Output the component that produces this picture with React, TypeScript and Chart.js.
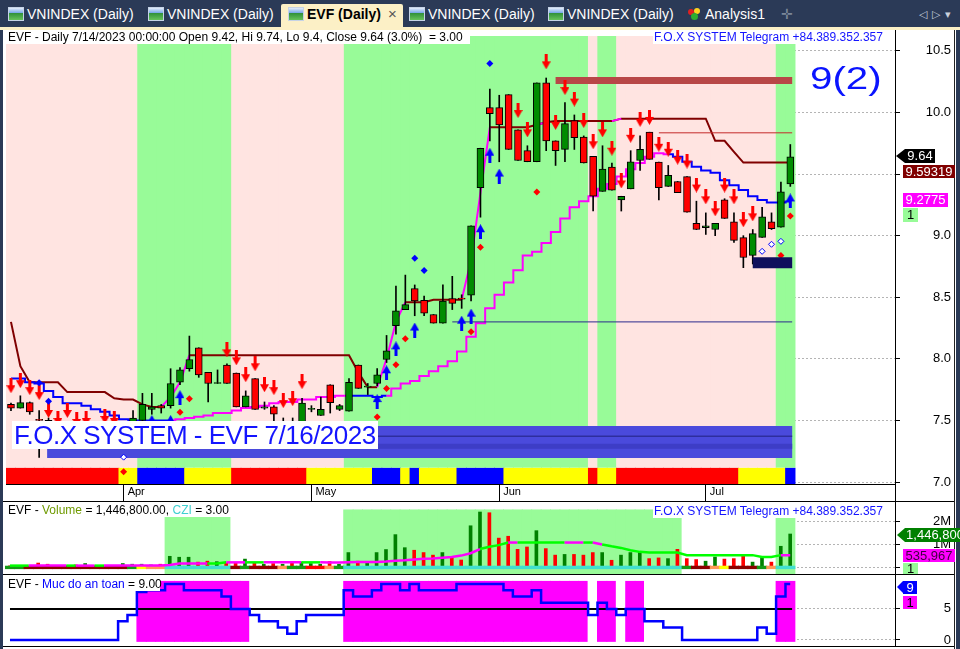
import React, { useEffect, useRef } from 'react';
import { Chart, registerables } from 'chart.js';

Chart.register(...registerables);

const FONT = '"Liberation Sans", Arial, Helvetica, sans-serif';
const _ = null;

/* ------------------------- data ------------------------- */
const monthTickIdx = [12, 32, 52, 74];
const monthLabels = ['Apr', 'May', 'Jun', 'Jul'];
const priceTicks = [7.0, 7.5, 8.0, 8.5, 9.0, 9.5, 10.0, 10.5];
const volumeTicks = [0, 1000000, 2000000];
const volumeTickLabels = ['', '1M', '2M'];
const safetyTicks = [0, 5];

const opens = [
  7.63, 7.60, 7.645, 7.51, 7.50, 7.46, 7.42, 7.45, 7.43, 7.47,
  7.44, 7.42, 7.40, 7.46, 7.50, 7.59, 7.62, 7.62, 7.81, 7.92,
  8.09, 7.89, 7.80, 7.95, 7.885, 7.61, 7.84, 7.60, 7.61, 7.44,
  7.48, 7.485, 7.59, 7.54, 7.79, 7.59, 7.575, 7.95, 7.77, 7.80,
  7.995, 8.27, 8.40, 8.57, 8.475, 8.36, 8.29, 8.49, 8.49, 8.516,
  9.39, 10.04, 10.04, 10.145, 9.86, 9.69, 9.60, 10.24, 9.77, 9.70,
  9.935, 9.80, 9.645, 9.36, 9.556, 9.29, 9.38, 9.61, 9.84, 9.597,
  9.40, 9.44, 9.48, 9.10, 9.065, 9.05, 9.29, 9.113, 8.984, 8.84,
  8.986, 9.113, 9.07, 9.42,
];
const highs = [
  7.64, 7.70, 7.65, 7.58, 7.52, 7.48, 7.47, 7.50, 7.49, 7.48,
  7.46, 7.45, 7.47, 7.58, 7.72, 7.72, 7.63, 7.92, 7.93, 8.185,
  8.09, 7.89, 7.91, 7.96, 7.885, 7.74, 7.84, 7.65, 7.62, 7.52,
  7.52, 7.68, 7.62, 7.69, 7.79, 7.63, 7.84, 7.95, 7.80, 7.92,
  8.19, 8.59, 8.68, 8.60, 8.51, 8.36, 8.60, 8.67, 8.52, 9.08,
  9.71, 10.19, 10.14, 10.145, 9.86, 9.73, 10.24, 10.28, 9.77, 10.08,
  9.98, 9.81, 9.645, 9.73, 9.59, 9.32, 9.69, 9.81, 9.84, 9.597,
  9.57, 9.44, 9.48, 9.28, 9.185, 9.10, 9.30, 9.185, 9.00, 9.05,
  9.23, 9.185, 9.435, 9.74,
];
const lows = [
  7.58, 7.60, 7.55, 7.20, 7.40, 7.26, 7.38, 7.38, 7.40, 7.40,
  7.36, 7.35, 7.36, 7.44, 7.48, 7.55, 7.56, 7.60, 7.79, 7.90,
  7.85, 7.65, 7.80, 7.80, 7.61, 7.61, 7.59, 7.59, 7.45, 7.40,
  7.40, 7.48, 7.57, 7.54, 7.56, 7.58, 7.575, 7.76, 7.71, 7.78,
  7.97, 8.20, 8.40, 8.35, 8.35, 8.29, 8.29, 8.40, 8.41, 8.47,
  9.15, 9.77, 9.60, 9.70, 9.61, 9.60, 9.60, 9.69, 9.57, 9.60,
  9.70, 9.59, 9.20, 9.36, 9.37, 9.20, 9.38, 9.53, 9.62, 9.29,
  9.40, 9.35, 9.19, 9.05, 9.01, 9.00, 9.14, 8.946, 8.74, 8.77,
  8.986, 9.05, 9.07, 9.40,
];
const closes = [
  7.60, 7.645, 7.57, 7.50, 7.46, 7.42, 7.45, 7.43, 7.47, 7.44,
  7.42, 7.40, 7.45, 7.52, 7.63, 7.61, 7.60, 7.80, 7.91, 7.995,
  7.87, 7.80, 7.805, 7.80, 7.61, 7.70, 7.59, 7.61, 7.55, 7.48,
  7.46, 7.64, 7.595, 7.59, 7.645, 7.62, 7.81, 7.76, 7.775, 7.87,
  8.065, 8.39, 8.44, 8.47, 8.37, 8.29, 8.47, 8.45, 8.485, 9.08,
  9.71, 9.99, 9.90, 9.70, 9.61, 9.60, 10.24, 9.77, 9.69, 9.91,
  9.796, 9.59, 9.32, 9.54, 9.37, 9.32, 9.60, 9.70, 9.62, 9.39,
  9.49, 9.35, 9.19, 9.05, 9.08, 9.10, 9.14, 8.962, 8.823, 9.016,
  9.153, 9.056, 9.355, 9.64,
];
const maroonLine = [
  8.30, 7.94, 7.81, 7.81, 7.81, 7.81, 7.73, 7.73, 7.73, 7.73,
  7.73, 7.68, 7.67, 7.67, 7.63, 7.61, 7.61, _, _, 8.03,
  8.03, 8.03, 8.03, 8.03, 8.03, 8.03, 8.03, 8.03, 8.03, 8.03,
  8.03, 8.03, 8.03, 8.03, 8.03, 8.03, 8.03, 7.89, 7.77, 7.77,
  _, _, 8.46, 8.46, 8.46, 8.48, 8.48, 8.48, 8.48, _,
  _, 9.88, 9.88, 9.88, 9.88, 9.88, 9.90, 9.92, 9.93, 9.93,
  9.93, 9.93, 9.93, 9.93, 9.93, 9.95, 9.95, 9.95, 9.95, 9.95,
  9.95, 9.95, 9.95, 9.95, 9.95, 9.77, 9.77, 9.68, 9.59319, 9.59319,
  9.59319, 9.59319, 9.59319, 9.59319,
];
const fastLine = [
  _, _, _, _, _, _, _, _, _, _,
  _, _, _, _, _, _, 7.61, 7.69, 7.81, 8.03,
  _, _, _, _, _, _, _, _, _, _,
  _, _, _, _, _, _, _, _, _, 7.77,
  8.00, 8.30, 8.46, _, _, _, _, _, 8.48, 8.80,
  9.35, 9.88, _, _, _, _, 9.90, 9.92, _, _,
  _, _, _, _, 9.93, 9.95, _, _, _, _,
  _, _, _, _, _, _, _, _, _, _,
  _, _, _, _,
];
const trailLine = [
  7.84, 7.84, 7.81, 7.80, 7.74, 7.69, 7.64, 7.64, 7.62, 7.59,
  7.57, 7.54, 7.51, 7.50, 7.50, 7.50, 7.50, 7.50, 7.51, 7.52,
  7.53, 7.54, 7.56, 7.56, 7.58, 7.60, 7.61, 7.62, 7.64, 7.65,
  7.65, 7.67, 7.67, 7.69, 7.69, 7.70, 7.70, 7.70, 7.70, 7.69,
  7.70, 7.76, 7.80, 7.82, 7.86, 7.90, 7.94, 7.98, 8.06, 8.18,
  8.29, 8.41, 8.52, 8.62, 8.72, 8.84, 8.87, 8.94, 9.03, 9.14,
  9.23, 9.28, 9.32, 9.38, 9.42, 9.48, 9.54, 9.59, 9.64, 9.67,
  9.66, 9.64, 9.60, 9.56, 9.53, 9.51, 9.45, 9.41, 9.37, 9.32,
  9.29, 9.27, 9.27, 9.2775,
];
const trailSide = 'bbbbbbbbbb bbbbbbbmmm mmmmmmmmmm mmmmmmbbbb mmmmmmmmmm mmmmmmmmmm mmmmmmmmmm bbbbbbbbbb bbbm'.replace(/ /g, '').split('');
const ribbonState = 'RRRRRRRRRR RRYYBBBBBY YYYYRRRRRR RRYYYYYYYB BBYBYYYYBB BBBYYYYYYY YYRYYRRRRR RRRRRRRRYY YYYB'.replace(/ /g, '').split('');
const mainZone = 'PPPPPPPPPP PPPPGGGGGG GGGGPPPPPP PPPPPPGGGG GGGGGGGGGG GGGGGGGGGG GGPGGPPPPP PPPPPPPPPP PPGG'.replace(/ /g, '').split('');

const volumes = [
  80000, 100000, 60000, 200000, 150000, 100000, 80000, 120000, 180000, 80000,
  100000, 70000, 180000, 150000, 150000, 120000, 150000, 490000, 450000, 450000,
  240000, 280000, 260000, 200000, 200000, 370000, 200000, 150000, 180000, 150000,
  270000, 240000, 180000, 150000, 270000, 150000, 650000, 280000, 200000, 650000,
  780000, 1420000, 860000, 750000, 650000, 540000, 650000, 440000, 330000, 1800000,
  2390000, 2360000, 1270000, 1350000, 790000, 890000, 1590000, 820000, 540000, 570000,
  570000, 540000, 650000, 650000, 320000, 540000, 650000, 650000, 390000, 420000,
  390000, 790000, 390000, 350000, 280000, 460000, 370000, 390000, 540000, 240000,
  420000, 240000, 920000, 1446800,
];
const volumeMA = [
  90000, 90000, 90000, 90000, 90000, 90000, 90000, 90000, 90000, 90000,
  90000, 90000, 90000, 90000, 90000, 90000, 90000, 120000, 180000, 180000,
  180000, 180000, 180000, 230000, 230000, 230000, 230000, 230000, 230000, 230000,
  230000, 230000, 230000, 230000, 220000, 220000, 230000, 240000, 250000, 250000,
  270000, 300000, 320000, 350000, 380000, 400000, 430000, 460000, 520000, 620000,
  800000, 900000, 970000, 1080000, 1080000, 1080000, 1080000, 1080000, 1080000, 1080000,
  1080000, 1080000, 1080000, 1000000, 920000, 850000, 750000, 680000, 650000, 650000,
  650000, 650000, 540000, 540000, 540000, 540000, 540000, 540000, 540000, 540000,
  460000, 460000, 540000, 535967,
];
const volumeMAColor = 'ggmmmmgmmg mmmmmmmmmm mggmmggmmm mggmmmmmmm mmmmmmmmmm gggmgggggm mgmggggggg gggggggggg ggmm'.replace(/ /g, '').split('');
const volumeZone = 'WWWWWWWWWW WWWWWWWGGG GGGGWWWWWW WWWWWWGGGG GGGGGGGGGG GGGGGGGGGG GGGGGGGGGG GGWWWWWWWW WWGG'.replace(/ /g, '').split('');
const volumeBase = 'ggkkkkkkkk kkkgyooccc cccckgkkko ggrrogcccc cccccccccc cccccccccc cccccccccc ccgkkoykkk gocc'.replace(/ /g, '').split('');

const safetyLevel = [
  0, 0, 0, 0, 0, 0, 0, 0, 0, 0,
  0, 0, 3, 4, 7.7, 8, 8, 9, 9, 8,
  8, 8, 8, 7, 5, 5, 4, 3, 3, 2,
  1, 3, 4, 4, 4, 4, 8, 7, 7, 8,
  9, 9, 8, 9, 8, 8, 8, 8, 9, 9,
  9, 9, 9, 8, 7, 7, 8, 6, 6, 6,
  6, 6, 4, 6, 5, 4, 5, 5, 3, 3,
  2, 2, 0, 0, 0, 0, 0, 0, 0, 0,
  2, 1, 7, 9,
];
const safetyZone = 'WWWWWWWWWW WWWWMMMMMM MMMMMMWWWW WWWWWWMMMM MMMMMMMMMM MMMMMMMMMM MMWMMWMMWW WWWWWWWWWW WWMM'.replace(/ /g, '').split('');
const safetyThreshold = 5;
const safetyThresholdSpan = [0, 83.2];

const redArrowIdx = [0, 1, 2, 3, 4, 5, 6, 7, 8, 10, 11, 23, 24, 25, 26, 27, 28, 29, 30, 31, 54, 55, 57, 58, 59, 60, 61, 62, 63, 64, 65, 66, 67, 68, 69, 70, 71, 72, 73, 74, 75, 76, 77, 78, 79];
const redArrowPrice = [7.782, 7.823, 7.766, 7.726, 7.581, 7.516, 7.581, 7.508, 7.516, 7.532, 7.516, 8.073, 8.008, 7.871, 7.96, 7.79, 7.766, 7.661, 7.677, 7.815, 10.016, 9.859, 10.411, 9.919, 10.202, 10.109, 9.935, 9.762, 9.859, 9.71, 9.444, 9.815, 9.944, 9.96, 9.742, 9.702, 9.637, 9.605, 9.411, 9.315, 9.218, 9.411, 9.315, 9.129, 9.177];
const blueArrowIdx = [15, 17, 18, 39, 40, 41, 43, 48, 49, 50, 51, 52, 83];
const blueArrowPrice = [7.484, 7.484, 7.685, 7.653, 7.887, 8.081, 8.234, 8.29, 8.347, 9.032, 9.653, 9.484, 9.282];
const redDotIdx = [12, 18, 19, 39, 40, 41, 42, 49, 50, 56, 82, 83];
const redDotPrice = [7.083, 7.567, 7.677, 7.527, 7.76, 7.952, 8.164, 8.22, 8.906, 9.355, 8.839, 9.159];
const blueDotIdx = [3, 4, 43, 44, 51];
const blueDotPrice = [7.806, 7.656, 8.817, 8.718, 10.398];
const hollowIdx = [12, 80, 81, 82];
const hollowPrice = [7.202, 8.873, 8.93, 8.954];

const levelValue = [8.30, 9.835, 10.26, 8.78, 7.324, 7.290, 7.371];
const levelFrom = [47, 69, 58, 79, 3.85, 3.85, 3.85];
const levelTo = [83.2, 83.2, 83.2, 83.2, 83.2, 83.2, 83.2];

/* ------------------------- styling ------------------------- */
const PINK = '#ffe4e1';
const PALE_GREEN = '#98fb98';
const CANDLE_GREEN = '#008c00';
const CANDLE_RED = '#ff0000';
const RIBBON_COLORS: any = { R: '#ff0000', Y: '#ffff00', B: '#0000ff' };
const BASE_COLORS: any = { c: '#40e0d0', k: '#8b0000', g: '#159a15', o: '#ff9955', y: '#ffff00', r: '#ff0000' };
const levelStyles = [
  { color: '#2b2b8c', width: 1, order: 30 },
  { color: '#c42a2a', width: 1, order: 30 },
  { color: '#b84747', width: 7, order: 15 },
  { color: '#0f0f5c', width: 11, order: 5 },
  { color: '#4a4adc', width: 32, order: 16 },
  { color: '#3d3dc6', width: 5, order: 15 },
  { color: '#2e2e9e', width: 1.5, order: 15 },
];

const X_MIN = -0.53;
const X_MAX = 94.15;
const P_MIN = 6.984;
const P_MAX = 10.621;
const RIBBON_TOP = 7.115;
const V_MIN = -270000;
const V_MAX = 2863000;
const V_BAND_TOP = 2500000;
const V_BASE_LO = -60000;
const V_BASE_HI = 85000;
const S_MIN = -0.965;
const S_MAX = 10.45;
const S_BAND_LO = -0.3;
const S_BAND_HI = 9.5;

const idx = opens.map((_v, i) => i);

function makeArrow(color: string, up: boolean) {
  const c = document.createElement('canvas');
  c.width = 9;
  c.height = 15;
  const g = c.getContext('2d') as CanvasRenderingContext2D;
  g.fillStyle = color;
  g.beginPath();
  if (up) {
    g.moveTo(4.5, 0);
    g.lineTo(9, 8);
    g.lineTo(0, 8);
    g.closePath();
    g.fill();
    g.fillRect(3, 7, 3, 8);
  } else {
    g.fillRect(3, 0, 3, 8);
    g.moveTo(0, 7);
    g.lineTo(9, 7);
    g.lineTo(4.5, 15);
    g.closePath();
    g.fill();
  }
  return c;
}

function xScale(show: boolean) {
  return {
    type: 'linear',
    min: X_MIN,
    max: X_MAX,
    offset: false,
    display: show,
    afterBuildTicks: (s: any) => {
      s.ticks = monthTickIdx.map((v) => ({ value: v }));
    },
    afterFit: (s: any) => {
      s.height = show ? 17 : 0;
      s.paddingLeft = 0;
      s.paddingRight = 0;
    },
    ticks: {
      callback: (v: any) => {
        const k = monthTickIdx.indexOf(v);
        return k >= 0 ? monthLabels[k] : '';
      },
      align: 'start',
      labelOffset: 4,
      padding: -16,
      autoSkip: false,
      maxRotation: 0,
      color: '#000',
      font: { size: 11, family: FONT },
    },
    grid: {
      offset: false,
      drawOnChartArea: false,
      drawTicks: true,
      tickLength: 17,
      tickColor: '#000',
      tickWidth: 1,
      tickBorderDash: [],
    },
    border: { display: true, color: '#000', width: 1 },
  };
}

function yScale(min: number, max: number, ticks: number[], label: (v: number) => string) {
  return {
    type: 'linear',
    position: 'right',
    min,
    max,
    afterBuildTicks: (s: any) => {
      s.ticks = ticks.map((v) => ({ value: v }));
    },
    afterFit: (s: any) => {
      s.width = 56;
      s.paddingTop = 0;
      s.paddingBottom = 0;
    },
    ticks: {
      callback: (v: any) => label(v),
      crossAlign: 'far',
      autoSkip: false,
      padding: 4,
      color: '#000',
      font: { size: 13, family: FONT },
    },
    grid: {
      drawOnChartArea: true,
      color: '#b4b4b4',
      lineWidth: 1,
      drawTicks: true,
      tickLength: 5,
      tickColor: '#000',
      tickWidth: 1,
      tickBorderDash: [],
    },
    border: { display: true, color: '#000', width: 1, dash: [2, 2] },
  };
}

function baseOptions(y: any, showX: boolean, padTop: number) {
  return {
    responsive: false,
    animation: false,
    events: [],
    devicePixelRatio: 1,
    layout: { padding: { left: 5, right: 9, top: padTop, bottom: 0 } },
    plugins: { legend: { display: false }, tooltip: { enabled: false } },
    scales: { x: xScale(showX), y },
  };
}

const fullBar = { barPercentage: 1.1, categoryPercentage: 1, grouped: false, borderWidth: 0 };

function buildMain(redArrow: any, blueArrow: any): any {
  const bodyLo = idx.map((i) => Math.min(opens[i], closes[i]));
  const bodyHi = idx.map((i) => Math.max(opens[i], closes[i], bodyLo[i] + 0.008));
  const up = idx.map((i) => closes[i] >= opens[i]);
  const datasets: any[] = [
    {
      type: 'bar',
      data: idx.map((i) => ({ x: i, y: [RIBBON_TOP, P_MAX] })),
      backgroundColor: mainZone.map((z) => (z === 'G' ? PALE_GREEN : PINK)),
      ...fullBar,
      order: 100,
    },
    {
      type: 'bar',
      data: idx.map((i) => ({ x: i, y: [P_MIN, RIBBON_TOP] })),
      backgroundColor: ribbonState.map((s) => RIBBON_COLORS[s]),
      ...fullBar,
      order: 95,
    },
    ...levelValue.map((v, k) => ({
      type: 'line',
      data: [
        { x: levelFrom[k], y: v },
        { x: levelTo[k], y: v },
      ],
      borderColor: levelStyles[k].color,
      borderWidth: levelStyles[k].width,
      borderCapStyle: 'butt',
      pointRadius: 0,
      order: levelStyles[k].order,
    })),
    {
      type: 'line',
      data: idx.map((i) => ({ x: i, y: maroonLine[i] })),
      borderColor: '#800000',
      borderWidth: 2,
      pointRadius: 0,
      order: 41,
    },
    {
      type: 'line',
      data: idx.map((i) => ({ x: i, y: trailLine[i] })),
      borderColor: '#0000ff',
      segment: { borderColor: (ctx: any) => (trailSide[ctx.p0DataIndex] === 'b' ? '#0000ff' : '#ff00ff') },
      borderWidth: 2,
      stepped: 'middle',
      pointRadius: 0,
      order: 40,
    },
    {
      type: 'line',
      data: idx.map((i) => ({ x: i, y: fastLine[i] })),
      borderColor: '#ff00ff',
      borderWidth: 2,
      pointRadius: 0,
      order: 39,
    },
    {
      type: 'bar',
      data: idx.map((i) => ({ x: i, y: [lows[i], highs[i]] })),
      backgroundColor: '#000',
      barThickness: 1,
      grouped: false,
      borderWidth: 0,
      order: 21,
    },
    {
      type: 'bar',
      data: idx.map((i) => ({ x: i, y: [bodyLo[i], bodyHi[i]] })),
      backgroundColor: up.map((u) => (u ? CANDLE_GREEN : CANDLE_RED)),
      borderColor: '#000',
      borderWidth: 1,
      borderSkipped: false,
      barThickness: 7,
      grouped: false,
      order: 20,
    },
    {
      type: 'scatter',
      data: redArrowIdx.map((x, k) => ({ x, y: redArrowPrice[k] })),
      pointStyle: redArrow,
      pointRadius: 5,
      order: 10,
    },
    {
      type: 'scatter',
      data: blueArrowIdx.map((x, k) => ({ x, y: blueArrowPrice[k] })),
      pointStyle: blueArrow,
      pointRadius: 5,
      order: 10,
    },
    {
      type: 'scatter',
      data: redDotIdx.map((x, k) => ({ x, y: redDotPrice[k] })),
      pointStyle: 'rectRot',
      pointRadius: 3.5,
      backgroundColor: '#ff0000',
      borderWidth: 0,
      order: 9,
    },
    {
      type: 'scatter',
      data: blueDotIdx.map((x, k) => ({ x, y: blueDotPrice[k] })),
      pointStyle: 'rectRot',
      pointRadius: 3.5,
      backgroundColor: '#0000ff',
      borderWidth: 0,
      order: 9,
    },
    {
      type: 'scatter',
      data: hollowIdx.map((x, k) => ({ x, y: hollowPrice[k] })),
      pointStyle: 'rectRot',
      pointRadius: 3,
      backgroundColor: '#ffffff',
      borderColor: '#0000ff',
      borderWidth: 1,
      order: 9,
    },
  ];
  return {
    type: 'bar',
    data: { datasets },
    options: baseOptions(
      yScale(P_MIN, P_MAX, priceTicks, (v) => Number(v).toFixed(1)),
      true,
      3,
    ),
  };
}

function buildVolume(): any {
  const datasets: any[] = [
    {
      type: 'bar',
      data: idx.map((i) => ({ x: i, y: [V_MIN, volumeZone[i] === 'G' ? V_BAND_TOP : V_MAX] })),
      backgroundColor: volumeZone.map((z) => (z === 'G' ? PALE_GREEN : '#ffffff')),
      ...fullBar,
      order: 100,
    },
    {
      type: 'bar',
      data: idx.map((i) => ({ x: i, y: volumes[i] })),
      backgroundColor: idx.map((i) => (closes[i] >= opens[i] ? '#008000' : '#ff0000')),
      barThickness: 3,
      grouped: false,
      borderWidth: 0,
      order: 30,
    },
    {
      type: 'bar',
      data: idx.map((i) => ({ x: i, y: [V_BASE_LO, V_BASE_HI] })),
      backgroundColor: volumeBase.map((c) => BASE_COLORS[c]),
      ...fullBar,
      order: 25,
    },
    {
      type: 'line',
      data: idx.map((i) => ({ x: i, y: volumeMA[i] })),
      borderColor: '#ff00ff',
      segment: { borderColor: (ctx: any) => (volumeMAColor[ctx.p0DataIndex] === 'g' ? '#00ff00' : '#ff00ff') },
      borderWidth: 2.5,
      pointRadius: 0,
      order: 10,
    },
  ];
  return {
    type: 'bar',
    data: { datasets },
    options: baseOptions(
      yScale(V_MIN, V_MAX, volumeTicks, (v) => {
        const k = volumeTicks.indexOf(v);
        return k >= 0 ? volumeTickLabels[k] : '';
      }),
      false,
      0,
    ),
  };
}

function buildSafety(): any {
  const datasets: any[] = [
    {
      type: 'bar',
      data: idx.map((i) => ({ x: i, y: safetyZone[i] === 'M' ? [S_BAND_LO, S_BAND_HI] : [S_MIN, S_MAX] })),
      backgroundColor: safetyZone.map((z) => (z === 'M' ? '#ff00ff' : '#ffffff')),
      ...fullBar,
      order: 100,
    },
    {
      type: 'line',
      data: safetyThresholdSpan.map((x) => ({ x, y: safetyThreshold })),
      borderColor: '#000',
      borderWidth: 2,
      pointRadius: 0,
      order: 20,
    },
    {
      type: 'line',
      data: idx.map((i) => ({ x: i, y: safetyLevel[i] })),
      borderColor: '#0000ff',
      borderWidth: 2.5,
      stepped: 'middle',
      pointRadius: 0,
      order: 10,
    },
  ];
  return {
    type: 'bar',
    data: { datasets },
    options: baseOptions(yScale(S_MIN, S_MAX, safetyTicks, (v) => String(v)), false, 0),
  };
}

/* ------------------------- UI bits ------------------------- */
function Tag(props: any) {
  const { left, top, w, h, bg, fg, text, arrow } = props;
  return (
    <div
      style={{
        position: 'absolute',
        left,
        top,
        width: w,
        height: h,
        background: bg,
        color: fg,
        font: `13px ${FONT}`,
        lineHeight: `${h}px`,
        textAlign: 'center',
        whiteSpace: 'nowrap',
      }}
    >
      {arrow ? (
        <div
          style={{
            position: 'absolute',
            left: -arrow,
            top: 0,
            width: 0,
            height: 0,
            borderTop: `${h / 2}px solid transparent`,
            borderBottom: `${h / 2}px solid transparent`,
            borderRight: `${arrow}px solid ${bg}`,
          }}
        />
      ) : null}
      {text}
    </div>
  );
}

function ChartIcon(props: any) {
  return (
    <div
      style={{
        position: 'absolute',
        left: props.x,
        top: 7,
        width: 16,
        height: 14,
        boxSizing: 'border-box',
        border: '1px solid #c6d3e6',
        background: 'linear-gradient(#e4edf9 0%, #78a8ea 40%, #2f8f3a 41%, #67c25a 100%)',
      }}
    />
  );
}

const tabs = [
  { x: 8, label: 'VNINDEX (Daily)', active: false },
  { x: 148, label: 'VNINDEX (Daily)', active: false },
  { x: 288, label: 'EVF (Daily)', active: true },
  { x: 409, label: 'VNINDEX (Daily)', active: false },
  { x: 548, label: 'VNINDEX (Daily)', active: false },
];

const abs = (s: any) => ({ position: 'absolute', ...s }) as any;

export default function App() {
  const mainRef = useRef<HTMLCanvasElement | null>(null);
  const volRef = useRef<HTMLCanvasElement | null>(null);
  const safeRef = useRef<HTMLCanvasElement | null>(null);

  useEffect(() => {
    Chart.defaults.font.family = FONT;
    const redArrow = makeArrow('#ff0000', false);
    const blueArrow = makeArrow('#0000ff', true);
    const charts = [
      new Chart(mainRef.current as HTMLCanvasElement, buildMain(redArrow, blueArrow)),
      new Chart(volRef.current as HTMLCanvasElement, buildVolume()),
      new Chart(safeRef.current as HTMLCanvasElement, buildSafety()),
    ];
    return () => charts.forEach((c) => c.destroy());
  }, []);

  const last = opens.length - 1;
  const txt12 = { font: `12px ${FONT}`, lineHeight: '14px', whiteSpace: 'pre' };

  return (
    <div style={{ position: 'fixed', left: 0, top: 0, width: 960, height: 649, overflow: 'hidden', background: '#fff', fontFamily: FONT }}>
      <canvas ref={mainRef} width={960} height={471} style={abs({ left: 0, top: 30 })} />
      <canvas ref={volRef} width={960} height={73} style={abs({ left: 0, top: 501 })} />
      <canvas ref={safeRef} width={960} height={71} style={abs({ left: 0, top: 575 })} />

      {/* tab bar */}
      <div style={abs({ left: 0, top: 0, width: 960, height: 27, background: '#2b3a57' })} />
      <div style={abs({ left: 0, top: 27, width: 960, height: 3, background: '#fcf0c6' })} />
      <div style={abs({ left: 281, top: 4, width: 122, height: 26, background: '#fcf0c6', borderRadius: '2px 2px 0 0' })} />
      {tabs.map((t, k) => (
        <React.Fragment key={k}>
          <ChartIcon x={t.x} />
          <div
            style={abs({
              left: t.x + 19,
              top: 6,
              font: `${t.active ? 'bold ' : ''}14px ${FONT}`,
              lineHeight: '16px',
              color: t.active ? '#000' : '#ffffff',
              whiteSpace: 'nowrap',
            })}
          >
            {t.label}
          </div>
        </React.Fragment>
      ))}
      <div style={abs({ left: 388, top: 5, font: `15px ${FONT}`, lineHeight: '18px', color: '#555' })}>×</div>
      <div style={abs({ left: 688, top: 9, width: 6, height: 6, borderRadius: 3, background: '#e02020' })} />
      <div style={abs({ left: 694, top: 8, width: 6, height: 6, borderRadius: 3, background: '#ffd21f' })} />
      <div style={abs({ left: 691, top: 13, width: 7, height: 7, borderRadius: 4, background: '#2fae2f' })} />
      <div style={abs({ left: 705, top: 6, font: `14px ${FONT}`, lineHeight: '16px', color: '#fff' })}>Analysis1</div>
      <div style={abs({ left: 781, top: 5, font: `14px ${FONT}`, lineHeight: '18px', color: '#7b8799' })}>✛</div>
      <div style={abs({ left: 919, top: 6, font: `11px ${FONT}`, lineHeight: '16px', color: '#c9d0dc', letterSpacing: 5 })}>◁▷▾</div>

      {/* frame */}
      <div style={abs({ left: 0, top: 30, width: 3, height: 619, background: '#2b3a57' })} />
      <div style={abs({ left: 954, top: 30, width: 1, height: 619, background: '#222' })} />
      <div style={abs({ left: 956, top: 30, width: 4, height: 619, background: '#2b3a57' })} />
      <div style={abs({ left: 895, top: 30, width: 1, height: 616, background: '#000' })} />
      <div style={abs({ left: 3, top: 501, width: 951, height: 1, background: '#000' })} />
      <div style={abs({ left: 3, top: 574, width: 951, height: 1, background: '#000' })} />
      <div style={abs({ left: 3, top: 646, width: 951, height: 1, background: '#000' })} />

      {/* main pane texts */}
      <div style={abs({ left: 5, top: 30, width: 465, height: 14, background: '#fff' })} />
      <div style={abs({ left: 8, top: 30, ...txt12, color: '#000' })}>
        {'EVF - Daily 7/14/2023 00:00:00 Open 9.42, Hi 9.74, Lo 9.4, Close 9.64 (3.0%)  = 3.00'}
      </div>
      <div style={abs({ left: 653, top: 30, width: 233, height: 14, background: '#fff' })} />
      <div style={abs({ left: 654, top: 30, ...txt12, color: '#1414ff' })}>F.O.X SYSTEM Telegram +84.389.352.357</div>
      <div
        style={abs({
          left: 810,
          top: 63,
          font: `31px ${FONT}`,
          lineHeight: '31px',
          color: '#0a14ff',
          transform: 'scaleX(1.3)',
          transformOrigin: 'left top',
          whiteSpace: 'nowrap',
        })}
      >
        9(2)
      </div>
      <div style={abs({ left: 12, top: 421, width: 366, height: 28, background: '#fff' })} />
      <div
        style={abs({
          left: 14,
          top: 421,
          font: `26px ${FONT}`,
          lineHeight: '28px',
          letterSpacing: -0.5,
          color: '#1414ff',
          whiteSpace: 'nowrap',
        })}
      >
        F.O.X SYSTEM - EVF 7/16/2023
      </div>

      {/* volume pane texts */}
      <div style={abs({ left: 5, top: 503, width: 226, height: 14, background: '#fff' })} />
      <div style={abs({ left: 8, top: 503, ...txt12, color: '#000' })}>
        {'EVF - '}
        <span style={{ color: '#6f9a00' }}>Volume</span>
        {' = 1,446,800.00, '}
        <span style={{ color: '#3fd0d0' }}>CZI</span>
        {' = 3.00'}
      </div>
      <div style={abs({ left: 653, top: 504, width: 233, height: 14, background: '#fff' })} />
      <div style={abs({ left: 654, top: 504, ...txt12, color: '#1414ff' })}>F.O.X SYSTEM Telegram +84.389.352.357</div>

      {/* safety pane texts */}
      <div style={abs({ left: 5, top: 577, width: 155, height: 14, background: '#fff' })} />
      <div style={abs({ left: 8, top: 577, ...txt12, color: '#000' })}>
        {'EVF - '}
        <span style={{ color: '#0000ff' }}>Muc do an toan</span>
        {' = 9.00'}
      </div>

      {/* value tags */}
      <Tag left={905} top={149} w={30} h={14} bg="#000" fg="#fff" arrow={9} text={closes[last].toFixed(2)} />
      <Tag left={903} top={165} w={52} h={13} bg="#800000" fg="#fff" text={String(maroonLine[last])} />
      <Tag left={903} top={193} w={45} h={14} bg="#ff00ff" fg="#fff" text={String(trailLine[last])} />
      <Tag left={903} top={208} w={15} h={14} bg={PALE_GREEN} fg="#000" text="1" />
      <Tag left={905} top={528} w={60} h={14} bg="#008000" fg="#fff" arrow={8} text={volumes[last].toLocaleString('en-US')} />
      <Tag left={903} top={549} w={52} h={13} bg="#ff00ff" fg="#400040" text={volumeMA[last].toLocaleString('en-US')} />
      <Tag left={903} top={563} w={15} h={11} bg={PALE_GREEN} fg="#000" text="1" />
      <Tag left={903} top={581} w={14} h={13} bg="#0000ff" fg="#fff" arrow={6} text={String(safetyLevel[last])} />
      <Tag left={903} top={596} w={14} h={13} bg="#ff00ff" fg="#000" text="1" />
    </div>
  );
}
